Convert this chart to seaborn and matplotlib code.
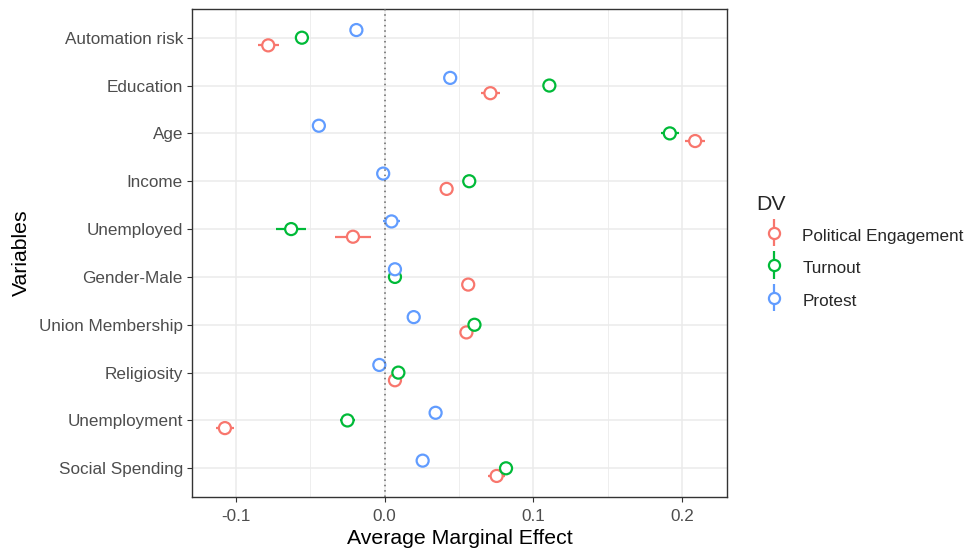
import numpy as np
import pandas as pd
import matplotlib
matplotlib.use("Agg")
import matplotlib.pyplot as plt
from matplotlib.legend_handler import HandlerErrorbar
import seaborn as sns

variables = ["Automation risk", "Education", "Age", "Income", "Unemployed",
             "Gender-Male", "Union Membership", "Religiosity", "Unemployment",
             "Social Spending"]
dvs = ["Political Engagement", "Turnout", "Protest"]

pe_est = [-0.0781, 0.0711, 0.2086, 0.0417, -0.0212, 0.0562, 0.0550, 0.0070, -0.1072, 0.0753]
pe_err = [0.0069, 0.0063, 0.0068, 0.0030, 0.0120, 0.0030, 0.0030, 0.0030, 0.0063, 0.0058]
to_est = [-0.0555, 0.1107, 0.1916, 0.0569, -0.0627, 0.0070, 0.0604, 0.0093, -0.0249, 0.0816]
to_err = [0.0042, 0.0040, 0.0060, 0.0030, 0.0100, 0.0030, 0.0030, 0.0030, 0.0050, 0.0040]
pr_est = [-0.0189, 0.0441, -0.0441, -0.0009, 0.0047, 0.0070, 0.0196, -0.0035, 0.0343, 0.0256]
pr_err = [0.0020, 0.0020, 0.0020, 0.0025, 0.0057, 0.0020, 0.0020, 0.0020, 0.0025, 0.0020]

colors = ["#F8766D", "#00BA38", "#619CFF"]
offsets = [0.16, 0.0, -0.16]

rows = []
for dv, est, err, off in zip(dvs, [pe_est, to_est, pr_est], [pe_err, to_err, pr_err], offsets):
    for i, (v, e, s) in enumerate(zip(variables, est, err)):
        rows.append({"Variable": v, "DV": dv, "AME": e, "err": s, "ypos": i + off})
df = pd.DataFrame(rows)

sns.set_style("white")
plt.rcParams["font.family"] = ["Liberation Sans", "DejaVu Sans"]

fig = plt.figure(figsize=(9.68, 5.53), dpi=100)
ax = fig.add_axes([192 / 968, 56 / 553, (727 - 192) / 968, (497 - 9) / 553])

# grid
for x in [-0.1, 0.0, 0.1, 0.2]:
    ax.axvline(x, color="#EBEBEB", lw=1.1, zorder=0)
for x in [-0.05, 0.05, 0.15]:
    ax.axvline(x, color="#EBEBEB", lw=0.6, zorder=0)
for i in range(len(variables)):
    ax.axhline(i, color="#EBEBEB", lw=1.1, zorder=0)

for dv, c in zip(dvs, colors):
    sub = df[df["DV"] == dv]
    ax.errorbar(sub["AME"], sub["ypos"], xerr=sub["err"], fmt="none",
                ecolor=c, elinewidth=1.6, capsize=0, zorder=2)

sns.scatterplot(data=df, x="AME", y="ypos", hue="DV", hue_order=dvs,
                palette=colors, s=75, linewidth=1.6, ax=ax, legend=False,
                zorder=3)
coll = ax.collections[-1]
fc = coll.get_facecolors()
coll.set_edgecolors(fc)
coll.set_facecolors("white")

ax.axvline(0, color="#666666", ls=(0, (1, 2.5)), lw=1.1, zorder=5)

ax.set_xlim(-0.1293, 0.2300)
ax.set_ylim(len(variables) - 1 + 0.6, -0.6)
ax.set_yticks(range(len(variables)))
ax.set_yticklabels(variables)
ax.set_xticks([-0.1, 0.0, 0.1, 0.2])
ax.set_xticklabels(["-0.1", "0.0", "0.1", "0.2"])
ax.tick_params(axis="both", colors="#333333", labelcolor="#4D4D4D",
               labelsize=12.3, length=3.5, width=0.8, direction="out",
               left=True, bottom=True, pad=3)
ax.tick_params(axis="x", pad=5)
ax.set_xlabel("Average Marginal Effect", fontsize=15.3, color="black", labelpad=4)
ax.set_ylabel("Variables", fontsize=15.3, color="black", labelpad=6)
for sp in ax.spines.values():
    sp.set_color("#333333")
    sp.set_linewidth(1.0)

# legend
handles = []
for dv, c in zip(dvs, colors):
    h = ax.errorbar([np.nan], [np.nan], yerr=[1], fmt="o", color=c, mfc="white",
                    mec=c, ms=8, mew=1.6, elinewidth=1.6, capsize=0)
    handles.append(h)
leg = fig.legend(handles, dvs, title="DV", loc="center left",
                 bbox_to_anchor=(741 / 968, 1 - 253 / 553), frameon=False,
                 fontsize=12.3, title_fontsize=15.3, handlelength=2.1,
                 handleheight=1.6, labelspacing=0.62, handletextpad=0.6,
                 handler_map={type(handles[0]): HandlerErrorbar(yerr_size=0.8)})
leg._legend_box.align = "left"

fig.savefig("out.png", dpi=100)
